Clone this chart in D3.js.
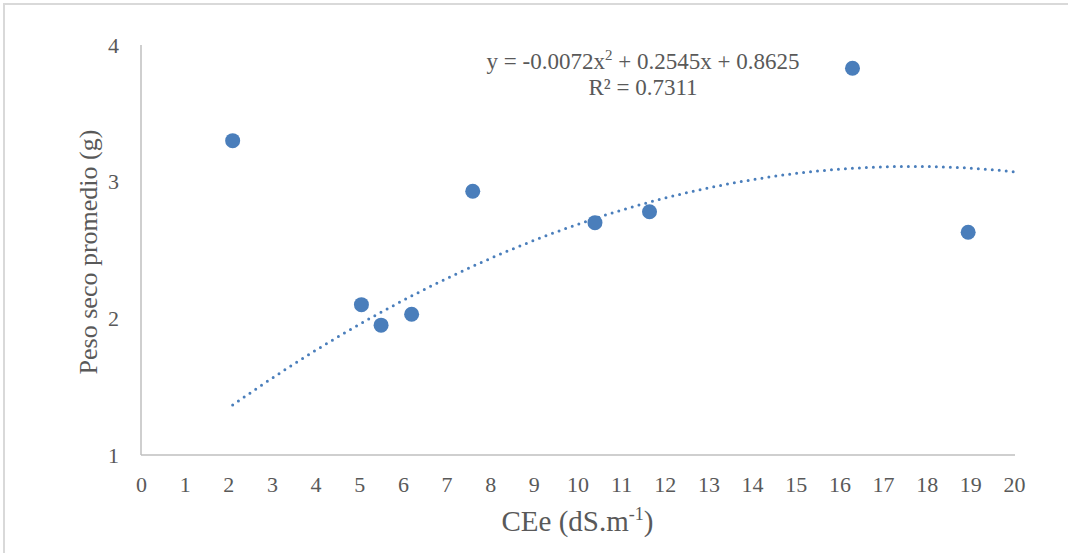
<!DOCTYPE html>
<html>
<head>
<meta charset="utf-8">
<script src="https://cdn.jsdelivr.net/npm/d3@7"></script>
<style>
  body { margin: 0; background: #fff; }
  text { font-family: "Liberation Serif", "Times New Roman", serif; fill: #595959; }
</style>
</head>
<body>
<div id="chart"></div>
<script>
// CEe values (dS.m-1) and mean dry weight (g)
const ceValues = [2.1, 5.05, 5.5, 6.2, 7.6, 10.4, 11.65, 16.3, 18.95];
const pesoValues = [3.3, 2.1, 1.95, 2.03, 2.93, 2.7, 2.78, 3.83, 2.63];
// polynomial trend: a*x^2 + b*x + c
const trendCoef = [-0.0072, 0.2545, 0.8625];
const xTicks = d3.range(0, 21);
const yTicks = [1, 2, 3, 4];

const w = 1068,
  h = 553;
const margin = { left: 141, right: 54, top: 45, bottom: 98 };

const svg = d3
  .select('#chart')
  .append('svg')
  .attr('width', w)
  .attr('height', h);

// outer frame
svg
  .append('rect')
  .attr('x', 4)
  .attr('y', 4)
  .attr('width', w + 20)
  .attr('height', h + 20)
  .attr('fill', 'none')
  .attr('stroke', '#d9d9d9')
  .attr('stroke-width', 2);

const x = d3.scaleLinear().domain([0, 20]).range([margin.left, w - margin.right]);
const y = d3.scaleLinear().domain([1, 4]).range([h - margin.bottom, margin.top]);

// axes
const xAxis = svg
  .append('g')
  .attr('transform', `translate(0,${y(1)})`)
  .call(d3.axisBottom(x).tickValues(xTicks).tickSize(0).tickPadding(21));
xAxis.select('.domain').attr('stroke', '#bfbfbf').attr('stroke-width', 1.5)
  .attr('d', `M${x(0)},0H${x(20) + 1}`);
xAxis.selectAll('text').style('font-size', '22px').attr('fill', '#595959');

const yAxis = svg
  .append('g')
  .attr('transform', `translate(${x(0)},0)`)
  .call(d3.axisLeft(y).tickValues(yTicks).tickFormat(d3.format('d')).tickSize(0).tickPadding(22));
yAxis.select('.domain').attr('stroke', '#bfbfbf').attr('stroke-width', 1.5)
  .attr('d', `M0,${y(4)}V${y(1)}`);
yAxis.selectAll('text').style('font-size', '22px').attr('fill', '#595959');

// trend line
const fit = (v) => trendCoef[0] * v * v + trendCoef[1] * v + trendCoef[2];
const trendPts = d3.range(d3.min(ceValues), 20.001, 0.1).map((v) => [v, fit(v)]);
svg
  .append('path')
  .datum(trendPts)
  .attr('fill', 'none')
  .attr('stroke', '#4a7ebb')
  .attr('stroke-width', 3)
  .attr('stroke-linecap', 'round')
  .attr('stroke-dasharray', '0,7')
  .attr('d', d3.line().x((d) => x(d[0])).y((d) => y(d[1])));

// points
svg
  .selectAll('circle.pt')
  .data(ceValues)
  .join('circle')
  .attr('class', 'pt')
  .attr('cx', (d) => x(d))
  .attr('cy', (d, i) => y(pesoValues[i]))
  .attr('r', 7.5)
  .attr('fill', '#4a7ebb');

// equation label
const eq = svg
  .append('text')
  .attr('x', 643)
  .attr('y', 69)
  .attr('text-anchor', 'middle')
  .style('font-size', '23px');
eq.append('tspan').text('y = -0.0072x');
eq.append('tspan').attr('dy', -9).style('font-size', '15px').text('2');
eq.append('tspan').attr('dy', 9).text(' + 0.2545x + 0.8625');

svg
  .append('text')
  .attr('x', 643)
  .attr('y', 95)
  .attr('text-anchor', 'middle')
  .style('font-size', '23px')
  .text('R² = 0.7311');

// axis titles
const xt = svg
  .append('text')
  .attr('x', (x(0) + x(20)) / 2)
  .attr('y', 531)
  .attr('text-anchor', 'middle')
  .style('font-size', '29px');
xt.append('tspan').text('CEe (dS.m');
xt.append('tspan').attr('dy', -11).style('font-size', '18px').text('-1');
xt.append('tspan').attr('dy', 11).text(')');

svg
  .append('text')
  .attr('transform', `translate(97,${(y(1) + y(4)) / 2 + 2}) rotate(-90)`)
  .attr('text-anchor', 'middle')
  .style('font-size', '26px')
  .text('Peso seco promedio (g)');
</script>
</body>
</html>
